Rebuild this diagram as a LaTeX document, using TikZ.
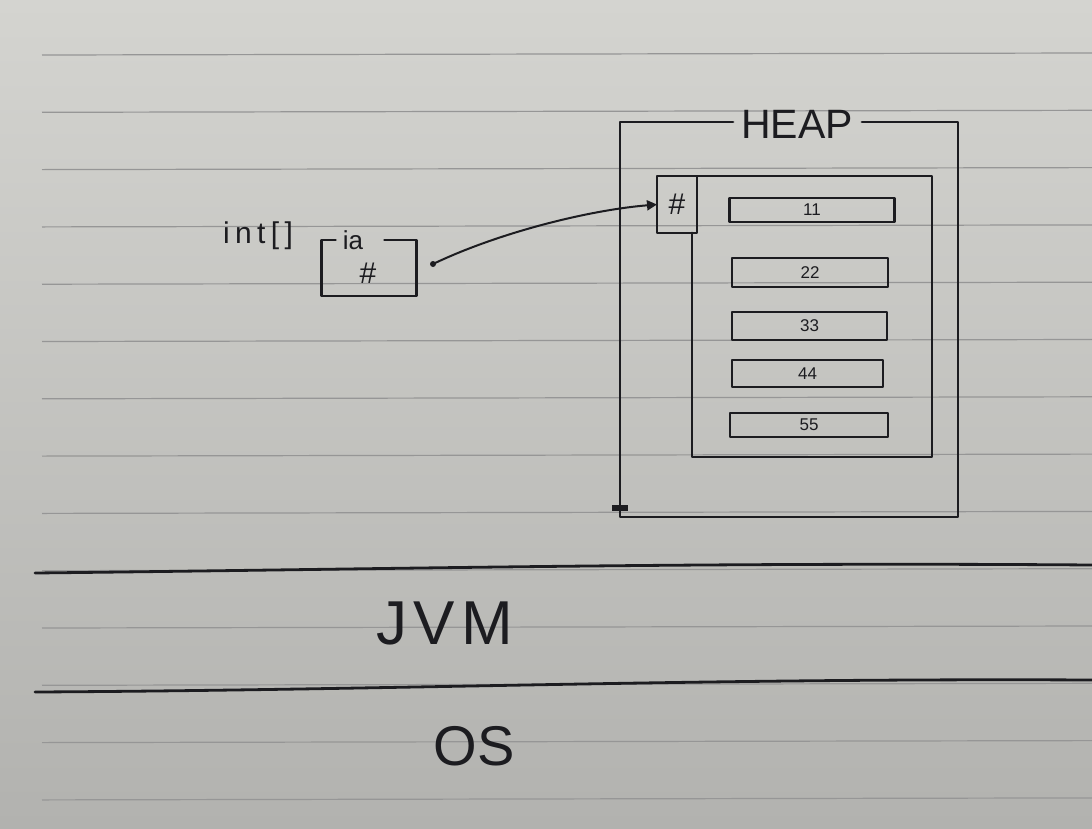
\documentclass[tikz,border=0pt]{standalone}
\usepackage{fontspec}
\setmainfont{Liberation Sans}
\usetikzlibrary{arrows.meta}
\definecolor{papertop}{RGB}{212,212,208}
\definecolor{paperbot}{RGB}{178,178,175}
\definecolor{ink}{RGB}{28,28,32}
\definecolor{ruling}{RGB}{150,150,150}
\begin{document}
\begin{tikzpicture}[x=1pt,y=-1pt,
  inkline/.style={draw=ink,line width=2.8pt,line cap=round,line join=round},
  boxnode/.style={inner sep=0pt,outer sep=0pt},
  cell/.style={inkline,line width=2.4pt,inner sep=0pt,outer sep=0pt,text=ink,font=\fontsize{17}{17}\selectfont},
  label/.style={text=ink,inner sep=0pt}]
\useasboundingbox (0,0) rectangle (1092,828);
\fill[top color=papertop,bottom color=paperbot] (0,0) rectangle (1092,828);
\foreach \k in {0,...,13}
  \draw[ruling,line width=1.2pt] (42,{55+57.3*\k}) -- (1092,{53+57.3*\k});

% stack variable
\node[boxnode,minimum width=95pt,minimum height=56pt] (iabox) at (369,268) {};
\draw[inkline] ([xshift=14pt]iabox.north west) -- (iabox.north west) -- (iabox.south west)
  -- (iabox.south east) -- (iabox.north east) -- ([xshift=-32pt]iabox.north east);
\node[label,font=\fontsize{26}{26}\selectfont] (ia) at (353,240) {ia};
\node[label,font=\fontsize{30}{30}\selectfont] (hash1) at (368,273) {\#};
\node[label,font=\addfontfeature{LetterSpace=18}\fontsize{30}{30}\selectfont] (type) at (258,236) {int[]};
\coordinate (src) at (433,264);
\fill[ink] (src) circle (3pt);

% heap
\node[boxnode,minimum width=338pt,minimum height=395pt] (heap) at (789,319.5) {};
\draw[inkline] ([xshift=113pt]heap.north west) -- (heap.north west) -- (heap.south west)
  -- (heap.south east) -- (heap.north east) -- ([xshift=-96pt]heap.north east);
\node[label,font=\fontsize{41}{41}\selectfont] (heaplbl) at (797,124) {HEAP};
\fill[ink] (612,505) rectangle (628,511);

% array object
\node[boxnode,minimum width=40pt,minimum height=57pt,inkline] (ptr) at (677,204.5) {};
\node[label,font=\fontsize{30}{30}\selectfont] (hash2) at (ptr.center) {\#};
\node[boxnode,minimum width=240pt,minimum height=281pt] (inner) at (812,316.5) {};
\draw[inkline] (ptr.north east) -- (inner.north east) -- (inner.south east)
  -- (inner.south west) -- (inner.west |- ptr.south);

\node[cell,minimum width=165pt,minimum height=24pt] (c11) at (812,210) {11};
\node[cell,minimum width=156pt,minimum height=29pt] (c22) at (810,272.5) {22};
\node[cell,minimum width=155pt,minimum height=28pt] (c33) at (809.5,326) {33};
\node[cell,minimum width=151pt,minimum height=27pt] (c44) at (807.5,373.5) {44};
\node[cell,minimum width=158pt,minimum height=24pt] (c55) at (809,425) {55};

% reference arrow
\draw[inkline,line width=2pt,-{Triangle[length=10pt,width=10pt]}] (src)
  .. controls (500,232) and (590,210) .. (ptr.west);

% layers
\coordinate (jvmL) at (35,573);
\coordinate (jvmR) at (1092,565);
\coordinate (osL) at (35,692);
\coordinate (osR) at (1092,680);
\draw[inkline] (jvmL) .. controls (400,569) and (700,562) .. (jvmR);
\draw[inkline] (osL) .. controls (400,690) and (700,678) .. (osR);
\node[label,font=\addfontfeature{LetterSpace=10}\fontsize{62}{62}\selectfont] (jvm) at (445,623) {JVM};
\node[label,font=\fontsize{56}{56}\selectfont] (os) at (474,746) {OS};
\end{tikzpicture}
\end{document}
